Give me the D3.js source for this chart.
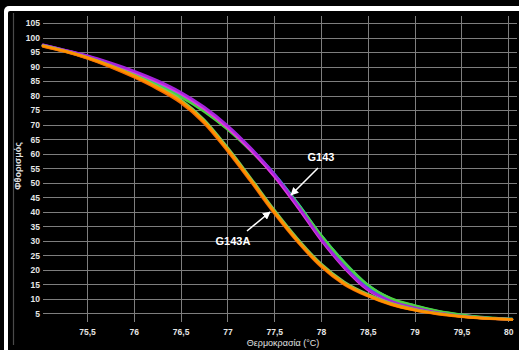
<!DOCTYPE html>
<html>
<head>
<meta charset="utf-8">
<script src="https://cdn.jsdelivr.net/npm/d3@7"></script>
<style>
  html, body { margin: 0; padding: 0; background: #000; }
  svg { display: block; }
  text { font-family: "Liberation Sans", Arial, sans-serif; }
</style>
</head>
<body>
<svg id="chart" width="519" height="350"></svg>
<script>
// Melt-curve data: fluorescence (%) against temperature (°C)
const temps = [75.03, 75.25, 75.5, 75.75, 76, 76.25, 76.5, 76.75, 77, 77.25, 77.5,
               77.75, 78, 78.25, 78.5, 78.75, 79, 79.25, 79.5, 79.75, 80.04];

// G143 wells
const g143Purple  = [97.6, 95.9, 93.9, 91.4, 88.6, 85.3, 81.3, 76.2, 69.8, 62.0, 53.0, 42.3, 30.8, 21.0, 13.4, 9.2, 6.9, 5.2, 4.1, 3.4, 2.9];
const g143Magenta = [97.5, 95.8, 93.7, 91.1, 88.2, 84.8, 80.7, 75.5, 69.0, 61.2, 52.2, 41.6, 30.3, 20.6, 13.0, 8.9, 6.7, 5.1, 4.0, 3.3, 2.9];
const g143Blue    = [97.4, 95.7, 93.6, 91.0, 88.1, 84.7, 80.7, 75.7, 69.4, 61.8, 53.1, 42.8, 31.6, 22.0, 14.2, 9.6, 7.2, 5.4, 4.2, 3.5, 3.0];
const g143Cyan    = [97.3, 95.5, 93.3, 90.6, 87.6, 84.1, 80.1, 75.1, 68.9, 61.5, 53.0, 43.0, 32.0, 22.6, 14.8, 10.0, 7.6, 5.7, 4.4, 3.5, 3.0];
const g143Green   = [97.2, 95.4, 93.1, 90.4, 87.3, 83.7, 79.6, 74.6, 68.4, 61.0, 52.6, 42.8, 31.9, 22.5, 14.8, 10.1, 7.7, 5.8, 4.5, 3.6, 3.0];

// G143A wells
const g143aGreen  = [97.3, 95.6, 93.3, 90.5, 87.2, 83.3, 78.7, 71.8, 62.2, 51.6, 40.7, 30.7, 22.1, 15.8, 11.6, 8.5, 6.4, 5.0, 4.0, 3.3, 2.9];
const g143aOlive  = [97.1, 95.4, 93.0, 90.1, 86.7, 82.7, 78.0, 71.0, 61.4, 50.9, 40.1, 30.2, 21.7, 15.4, 11.3, 8.3, 6.3, 4.9, 3.9, 3.3, 2.9];
const g143aDark   = [97.0, 95.3, 92.9, 89.9, 86.4, 82.4, 77.6, 70.6, 61.0, 50.4, 39.5, 29.6, 21.1, 14.9, 10.9, 7.9, 6.0, 4.7, 3.8, 3.2, 2.9];
const g143aOrange = [97.2, 95.5, 93.2, 90.3, 86.9, 82.9, 78.2, 71.2, 61.6, 51.0, 40.0, 30.0, 21.5, 15.2, 11.1, 8.1, 6.1, 4.8, 3.9, 3.3, 2.9];

const seriesNames  = ["g143Blue", "g143Cyan", "g143Green", "g143Magenta", "g143Purple",
                      "g143aGreen", "g143aOlive", "g143aDark", "g143aOrange"];
const seriesValues = [g143Blue, g143Cyan, g143Green, g143Magenta, g143Purple,
                      g143aGreen, g143aOlive, g143aDark, g143aOrange];
const seriesColors = ["#2f5ff0", "#22c6c6", "#4ed040", "#e034e0", "#a424dc",
                      "#7ccf5a", "#b9a22c", "#f26a00", "#ff9000"];

const xTicks = [75.5, 76, 76.5, 77, 77.5, 78, 78.5, 79, 79.5, 80];
const yTicks = [5, 10, 15, 20, 25, 30, 35, 40, 45, 50, 55, 60, 65, 70, 75, 80, 85, 90, 95, 100, 105];

const xTitle = "Θερμοκρασία (°C)";
const yTitle = "Φθορισμός";
const labels = [
  { text: "G143",  tx: 321, ty: 157, from: [318, 168], to: [291, 195] },
  { text: "G143A", tx: 233, ty: 241, from: [247, 231], to: [270, 212] }
];

const svg = d3.select("#chart");
const W = 519, H = 350;

// window frame: white top / left edges around the black panel
svg.append("rect").attr("width", W).attr("height", H).attr("fill", "#000");
svg.append("rect").attr("x", 4).attr("y", 6).attr("width", 700).attr("height", 500)
  .attr("rx", 5).attr("fill", "#fff");
svg.append("rect").attr("x", 8).attr("y", 11).attr("width", 700).attr("height", 500)
  .attr("rx", 2).attr("fill", "#000");
svg.append("line").attr("x1", 13.5).attr("x2", 13.5).attr("y1", 13).attr("y2", 345)
  .attr("stroke", "#4a4a4a").attr("stroke-width", 1.2);

const plot = { left: 43, right: 517, top: 16, bottom: 322 };
const x = d3.scaleLinear().domain([75.03, 80.094]).range([plot.left, plot.right]);
const y = d3.scaleLinear().domain([2, 107.5]).range([plot.bottom, plot.top]);

const fmt = d => String(d).replace(".", ",");

// grid
const grid = svg.append("g").attr("stroke", "#8c8c8c").attr("stroke-width", 1).attr("opacity", 0.9);
grid.selectAll(".hg").data(yTicks).join("line")
  .attr("x1", plot.left).attr("x2", plot.right)
  .attr("y1", d => Math.round(y(d)) + 0.5).attr("y2", d => Math.round(y(d)) + 0.5);
grid.selectAll(".vg").data(xTicks).join("line")
  .attr("y1", plot.top).attr("y2", plot.bottom)
  .attr("x1", d => Math.round(x(d)) + 0.5).attr("x2", d => Math.round(x(d)) + 0.5);

// axes (labels only)
const yAxis = svg.append("g").attr("transform", `translate(${plot.left},0)`)
  .call(d3.axisLeft(y).tickValues(yTicks).tickSize(0).tickPadding(3));
const xAxis = svg.append("g").attr("transform", `translate(0,${plot.bottom})`)
  .call(d3.axisBottom(x).tickValues(xTicks).tickFormat(fmt).tickSize(0).tickPadding(7));
[yAxis, xAxis].forEach(a => {
  a.select(".domain").remove();
  a.selectAll("text").attr("fill", "#e6e6e6").attr("font-size", 8.5)
    .attr("font-weight", "bold").attr("font-family", "Liberation Sans, Arial, sans-serif");
});

// axis titles
svg.append("text").attr("x", 283).attr("y", 346).attr("text-anchor", "middle")
  .attr("fill", "#e0e0e0").attr("font-size", 9).attr("font-family", "DejaVu Serif, serif")
  .text(xTitle);
svg.append("text").attr("transform", "translate(21,166) rotate(-90)")
  .attr("text-anchor", "middle").attr("fill", "#e0e0e0").attr("font-size", 9)
  .attr("font-weight", "bold").attr("font-family", "DejaVu Serif, serif")
  .text(yTitle);

// curves
const line = d3.line().x((d, i) => x(temps[i])).y(d => y(d)).curve(d3.curveMonotoneX);
svg.append("g").selectAll("path").data(seriesValues).join("path")
  .attr("class", (d, i) => seriesNames[i])
  .attr("d", line).attr("fill", "none")
  .attr("stroke", (d, i) => seriesColors[i]).attr("stroke-width", 2.5)
  .attr("stroke-linecap", "round");

// annotations with arrows
const defs = svg.append("defs");
defs.append("marker").attr("id", "arrow").attr("viewBox", "0 0 10 10")
  .attr("refX", 9).attr("refY", 5).attr("markerWidth", 5).attr("markerHeight", 5)
  .attr("orient", "auto").attr("markerUnits", "strokeWidth")
  .append("path").attr("d", "M0,0 L10,5 L0,10 z").attr("fill", "#fff");

labels.forEach(l => {
  svg.append("line").attr("x1", l.from[0]).attr("y1", l.from[1])
    .attr("x2", l.to[0]).attr("y2", l.to[1])
    .attr("stroke", "#fff").attr("stroke-width", 1.6).attr("marker-end", "url(#arrow)");
  svg.append("text").attr("x", l.tx).attr("y", l.ty).attr("dy", "0.35em")
    .attr("text-anchor", "middle").attr("fill", "#fff").attr("font-size", 11)
    .attr("font-weight", "bold").attr("font-family", "Open Sans, sans-serif")
    .text(l.text);
});
</script>
</body>
</html>
